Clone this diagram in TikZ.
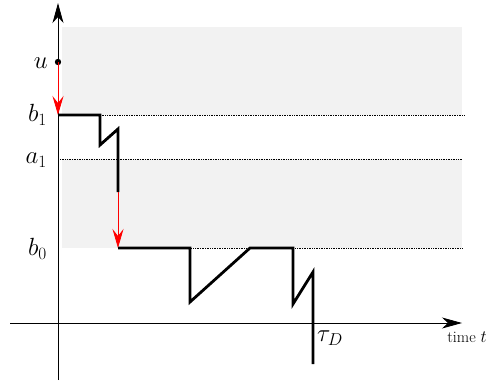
\documentclass[tikz,border=0pt]{standalone}
\usetikzlibrary{arrows.meta}
\begin{document}
\begin{tikzpicture}[x=1pt,y=-1pt,
  band/.style={fill=black!5, draw=none},
  level/.style={densely dotted, line width=0.7pt},
  proc/.style={line width=2.8pt, line join=miter},
  jump/.style={red, line width=0.8pt, -{Stealth[length=19pt,width=11pt,inset=7pt]}},
  axis/.style={line width=0.8pt, -{Stealth[length=20pt,width=11pt,inset=6pt]}},
  lab/.style={font=\fontsize{23}{26}\selectfont, inner sep=0pt, anchor=east},
  small/.style={font=\fontsize{16}{19}\selectfont, inner sep=0pt}]
\useasboundingbox (0,0) rectangle (487,381);
% shaded bands
\fill[band] (62,27) rectangle (462,115);
\fill[band] (62,159) rectangle (462,248);
% levels
\draw[level] (100,115) -- (464,115);
\draw[level] (60,159) -- (462,159);
\draw[level] (120,248) -- (462,248);
% axes
\coordinate (ybot) at (58,380);
\coordinate (ytop) at (58,3);
\coordinate (xleft) at (10,323);
\coordinate (xright) at (462,323);
\draw[axis] (ybot) -- (ytop);
\draw[axis] (xleft) -- (xright);
% labels
\node[lab] (lu) at (48,63) {$u$};
\node[lab] (lb1) at (47,115) {$b_1$};
\node[lab] (la1) at (47,160) {$a_1$};
\node[lab] (lb0) at (47,249) {$b_0$};
\node[small, anchor=north] (lt) at (467,332) {time $t$};
% process points
\coordinate (u) at (58,62);
\coordinate (p0) at (58,115);
\coordinate (p1) at (100,115);
\coordinate (p2) at (100,145);
\coordinate (p3) at (118,129);
\coordinate (p4) at (118,192);
\coordinate (q0) at (118,248);
\coordinate (q1) at (190,248);
\coordinate (q2) at (190,302);
\coordinate (q3) at (250,248);
\coordinate (q4) at (293,248);
\coordinate (q5) at (293,304);
\coordinate (q6) at (313,272);
\coordinate (q7) at (313,364);
\fill (u) circle (3.2pt);
\draw[jump] (u) -- (p0);
\draw[proc] (p0) -- (p1) -- (p2) -- (p3) -- (p4);
\draw[jump] (p4) -- (q0);
\draw[proc] (q0) -- (q1) -- (q2) -- (q3) -- (q4) -- (q5) -- (q6) -- (q7);
\node[lab, anchor=center] (tau) at (330,338) {$\tau_D$};
\end{tikzpicture}
\end{document}
